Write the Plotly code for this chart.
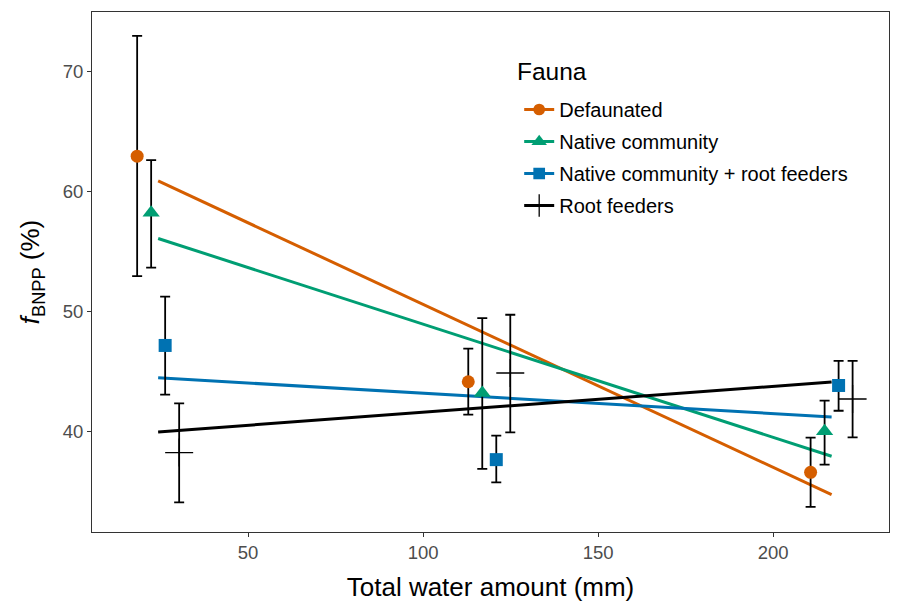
import plotly.graph_objects as go

# ---- data ----
groups = ["Defaunated", "Native community", "Native community + root feeders", "Root feeders"]
colors = ["#D55E00", "#009E73", "#0072B2", "#000000"]
symbols = ["circle", "triangle-up", "square", "cross-thin"]
marker_sizes = [13, 15, 13, 20]

water = [24.3, 118.9, 216.7]          # total water amount (mm), group centres
dodge = [-6.0, -2.0, 2.0, 6.0]        # dodge offsets per fauna group (mm)

means = {
    "Defaunated": [62.97, 44.14, 36.58],
    "Native community": [58.25, 43.2, 40.0],
    "Native community + root feeders": [47.17, 37.64, 43.83],
    "Root feeders": [38.23, 44.87, 42.7],
}
upper = {
    "Defaunated": [73.0, 46.9, 39.47],
    "Native community": [62.64, 49.45, 42.56],
    "Native community + root feeders": [51.25, 39.64, 45.89],
    "Root feeders": [42.33, 49.73, 45.89],
}
lower = {
    "Defaunated": [52.95, 41.4, 33.7],
    "Native community": [53.67, 36.87, 37.23],
    "Native community + root feeders": [43.06, 35.75, 41.72],
    "Root feeders": [34.08, 39.92, 39.5],
}
# fitted regression line values at min and max water amount
fit_start = {"Defaunated": 60.9, "Native community": 56.1,
             "Native community + root feeders": 44.47, "Root feeders": 39.95}
fit_end = {"Defaunated": 34.72, "Native community": 37.92,
           "Native community + root feeders": 41.2, "Root feeders": 44.12}

x_ticks = [50, 100, 150, 200]
y_ticks = [40, 50, 60, 70]
legend_title = "Fauna"

FONT = "Liberation Sans, Arial, sans-serif"

fig = go.Figure()

# regression lines
for g, c in zip(groups, colors):
    fig.add_trace(go.Scatter(
        x=[min(water), max(water)], y=[fit_start[g], fit_end[g]],
        mode="lines", line=dict(color=c, width=3), showlegend=False, hoverinfo="skip"))

# points with error bars
for i, (g, c, s, ms) in enumerate(zip(groups, colors, symbols, marker_sizes)):
    xs = [w + dodge[i] for w in water]
    m = means[g]
    up = [u - v for u, v in zip(upper[g], m)]
    lo = [v - l for v, l in zip(m, lower[g])]
    marker = dict(color=c, size=ms, symbol=s)
    if s == "cross-thin":
        marker["line"] = dict(color=c, width=1.3)
    fig.add_trace(go.Scatter(
        x=xs, y=m, mode="markers", marker=marker,
        error_y=dict(type="data", symmetric=False, array=up, arrayminus=lo,
                     color="black", thickness=1.8, width=5),
        showlegend=False))

# legend entries (line + marker)
for g, c, s, ms in zip(groups, colors, symbols, marker_sizes):
    marker = dict(color=c, size=ms * 0.9, symbol=s)
    if s == "cross-thin":
        marker["line"] = dict(color=c, width=1.3)
    fig.add_trace(go.Scatter(
        x=[None], y=[None], mode="lines+markers", name=g, legendgroup=g,
        line=dict(color=c, width=3), marker=marker, showlegend=True))

axis_common = dict(showline=True, linecolor="#333333", linewidth=1, mirror=True,
                   showgrid=False, zeroline=False, ticks="outside", ticklen=4,
                   tickcolor="#333333", tickwidth=1, automargin=False,
                   tickfont=dict(family=FONT, size=18.5, color="#4D4D4D"))

# the page body adds an 8px offset, so the figure is sized to the visible area
fig.update_layout(
    width=890, height=594,
    paper_bgcolor="white", plot_bgcolor="white",
    margin=dict(l=84, r=9, t=4, b=70),
    font=dict(family=FONT, color="black"),
    xaxis=dict(range=[5.4, 233.1], tickvals=x_ticks,
               title=dict(text="Total water amount (mm)", font=dict(size=26)),
               **axis_common),
    yaxis=dict(range=[31.6, 75.0], tickvals=y_ticks,
               title=dict(text="<i>f</i><sub>BNPP</sub> (%)", font=dict(size=26)),
               **axis_common),
    legend=dict(x=0.536, y=0.850, xanchor="left", yanchor="top",
                bgcolor="rgba(0,0,0,0)", font=dict(size=20),
                tracegroupgap=3, itemwidth=30),
    annotations=[dict(text=legend_title, xref="paper", yref="paper",
                      x=0.531, y=0.885, xanchor="left", yanchor="middle",
                      showarrow=False, font=dict(size=24.5, color="black"))],
)

fig.write_html("out.html")
